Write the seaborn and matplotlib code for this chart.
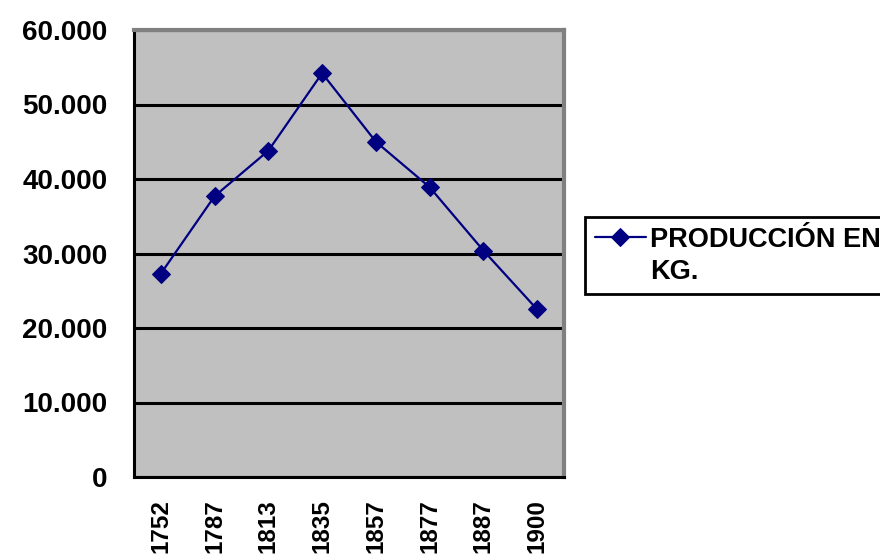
import matplotlib
matplotlib.use('Agg')
import matplotlib.pyplot as plt
from matplotlib.lines import Line2D
from matplotlib.ticker import FuncFormatter
import seaborn as sns
import numpy as np
import pandas as pd

years = ['1752', '1787', '1813', '1835', '1857', '1877', '1887', '1900']
production = [27300, 37700, 43800, 54200, 45000, 38900, 30400, 22500]
series_label = 'PRODUCCIÓN EN\nKG.'
yticks = [0, 10000, 20000, 30000, 40000, 50000, 60000]

df = pd.DataFrame({'year': years, 'kg': production})

sns.set_style('white')
plt.rcParams['font.family'] = ['Liberation Sans', 'DejaVu Sans']
plt.rcParams['font.weight'] = 'bold'
plt.rcParams['text.color'] = 'black'

fig = plt.figure(figsize=(8.8, 5.57), dpi=100)
ax = fig.add_axes([134 / 880, 1 - 477 / 557, 430 / 880, 447 / 557])
ax.set_facecolor('#c0c0c0')

sns.lineplot(data=df, x='year', y='kg', ax=ax, color='#000080',
             marker='D', markersize=9.5, markeredgecolor='#000080',
             linewidth=1.6, sort=False, label=series_label, zorder=3)

ax.set_ylim(0, 60000)
ax.set_xlim(-0.5, len(years) - 0.5)
ax.set_yticks(yticks)
ax.yaxis.set_major_formatter(
    FuncFormatter(lambda v, p: '{:,.0f}'.format(v).replace(',', '.')))
ax.grid(axis='y', color='black', linewidth=2.2, zorder=1)
ax.grid(axis='x', visible=False)
ax.set_axisbelow(True)

ax.set_xticks(np.arange(len(years)))
ax.set_xticklabels(years, rotation=90, va='top')
ax.set_xticks(np.arange(-0.5, len(years), 1), minor=True)
ax.tick_params(axis='x', which='major', length=0, pad=16, labelsize=17.5,
               labelcolor='black')
ax.tick_params(axis='x', which='minor', length=8, width=2, color='black',
               direction='out')
ax.tick_params(axis='y', length=8, width=2, color='black', direction='out',
               pad=11, labelsize=20, labelcolor='black')
ax.set_xlabel('')
ax.set_ylabel('')

for side in ['left', 'bottom']:
    ax.spines[side].set_color('black')
    ax.spines[side].set_linewidth(2.2)
for side in ['top', 'right']:
    ax.spines[side].set_color('#808080')
    ax.spines[side].set_linewidth(3)

# legend: keep the marker on the first line of the wrapped label
handles, labels = ax.get_legend_handles_labels()
ax.get_legend().remove()
lines = labels[0].split('\n')
handles = [handles[0]] + [Line2D([], [], linestyle='none')] * (len(lines) - 1)
leg = fig.legend(handles, lines, loc='upper left',
                 bbox_to_anchor=(585 / 880, 1 - 217 / 557),
                 fontsize=19.5, handlelength=1.9, handletextpad=0.15,
                 borderpad=0.36, borderaxespad=0, fancybox=False,
                 edgecolor='black', framealpha=1, labelspacing=0.22)
leg.get_frame().set_linewidth(2)
for t in leg.get_texts():
    t.set_fontweight('bold')
    t.set_color('black')

fig.savefig('out.png', dpi=100)
